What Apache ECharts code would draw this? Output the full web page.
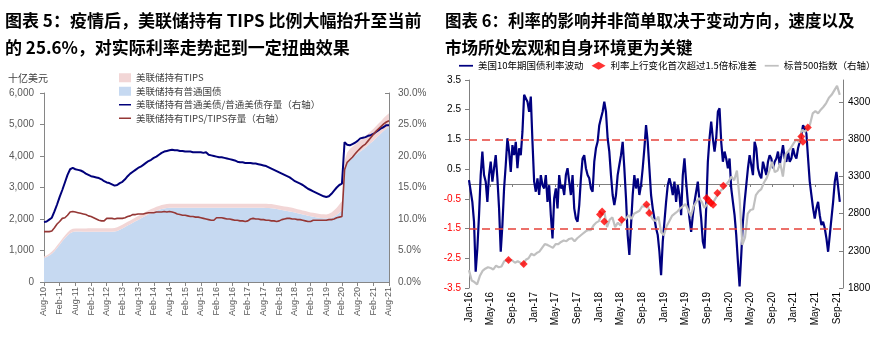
<!DOCTYPE html>
<html><head><meta charset="utf-8">
<script src="https://cdn.jsdelivr.net/npm/echarts@6/dist/echarts.min.js"></script>
<style>html,body{margin:0;padding:0;background:#fff;}#c{width:885px;height:338px;}</style>
</head><body><div id="c"></div>
<script>
// ================= 图表 5 (monthly, Aug-10 .. Aug-21) =================
const c5StartYear = 2010, c5StartMonth = 7; // Aug (0-based)
const c5MonthCount = 133;
const monthAbbr = ['Jan','Feb','Mar','Apr','May','Jun','Jul','Aug','Sep','Oct','Nov','Dec'];
// 美联储持有普通国债 (十亿美元)
const nominalHoldings = [
 760,790,840,900,980,1080,1180,1290,1390,1480,1550,1590,
 1600,1600,1600,1598,1598,1598,1597,1597,1597,1596,1596,1596,
 1595,1595,1596,1600,1620,1660,1700,1745,1790,1835,1880,1925,
 1970,2015,2060,2105,2150,2190,2225,2260,2290,2315,2335,2350,
 2355,2355,2355,2355,2355,2355,2355,2355,2355,2355,2355,2355,
 2355,2355,2355,2355,2355,2355,2355,2355,2355,2355,2355,2355,
 2355,2355,2355,2355,2355,2355,2355,2355,2355,2355,2355,2355,
 2355,2352,2350,
 2345,2330,2315,2300,2285,2270,2255,2240,2225,2205,2185,2165,
 2145,2125,2105,2085,2070,2055,2040,2030,2025,2020,2025,2040,
 2080,2130,2200,2280,
 3550,3800,3900,3960,4020,4080,4140,4200,4270,4340,4410,4480,4560,4640,4720,4800,4870,4930
];
// 美联储持有TIPS (十亿美元)
const tipsHoldings = [
 50,55,60,65,70,75,80,85,90,95,98,100,
 100,101,102,103,104,105,106,107,108,109,110,110,
 111,112,113,114,115,116,117,118,119,120,120,121,
 122,122,123,123,124,124,125,125,126,126,127,127,
 128,128,128,128,128,128,128,128,128,128,128,128,
 129,129,129,129,129,129,129,129,129,129,129,129,
 130,130,130,130,130,130,130,130,130,130,130,130,
 130,130,130,130,130,130,130,130,130,130,130,130,
 128,128,127,127,126,126,125,125,124,124,123,123,
 125,140,170,200,230,260,290,
 300,310,320,330,340,350,355,360,365,370,375,380,385,390,395,405,415,425
];
// 美联储持有普通美债/普通美债存量 (%)
const nominalShare = [
 9.5,9.6,9.9,10.2,11.2,12.3,13.5,14.6,15.8,17.0,17.9,18.1,
 17.9,17.8,17.7,17.5,17.2,17.0,16.8,16.7,16.6,16.5,16.3,16.0,
 15.8,15.7,15.5,15.3,15.4,15.7,15.9,16.3,16.8,17.2,17.5,17.8,
 18.1,18.3,18.6,18.9,19.2,19.4,19.7,19.9,20.2,20.5,20.7,20.8,
 20.9,21.0,20.9,20.9,20.8,20.8,20.7,20.7,20.7,20.6,20.6,20.6,
 20.6,20.5,20.6,20.2,20.1,20.0,19.9,19.8,19.8,19.7,19.6,19.5,
 19.4,19.3,19.1,19.0,19.0,18.9,18.9,18.9,18.8,18.8,18.7,18.6,
 18.5,18.4,18.2,18.0,17.8,17.6,17.4,17.2,17.0,16.8,16.6,16.3,
 16.0,15.8,15.6,15.4,15.1,14.8,14.6,14.4,14.2,14.0,13.8,13.6,
 13.5,13.6,14.0,14.5,15.0,15.4,15.6,22.2,21.8,21.7,21.9,22.1,
 22.4,22.8,22.9,23.0,23.2,23.3,23.5,23.8,24.1,24.4,24.6,24.9,24.9
];
// 美联储持有TIPS/TIPS存量 (%)
const tipsShare = [
 8.0,8.0,8.0,8.1,8.6,9.2,9.6,10.1,10.2,10.6,11.1,11.2,
 11.1,11.0,10.9,10.8,10.7,10.5,10.4,10.2,10.0,9.8,9.7,9.7,
 10.1,10.1,10.1,10.0,10.1,10.1,10.1,10.2,10.4,10.5,10.7,10.7,
 10.8,10.8,10.8,10.9,11.0,11.0,11.0,11.1,11.1,11.1,11.2,11.1,
 11.2,11.1,11.0,10.8,10.7,10.6,10.6,10.5,10.4,10.4,10.3,10.3,
 10.2,10.1,10.0,9.9,9.8,9.8,10.2,10.2,10.2,10.1,10.0,10.0,
 9.9,9.8,9.8,9.7,9.7,9.6,9.7,10.0,10.1,10.0,10.0,9.9,
 9.9,9.8,9.8,9.7,9.7,9.6,9.7,9.9,10.0,10.1,10.1,10.0,
 10.0,9.9,9.9,9.8,9.7,9.6,9.6,9.8,9.8,9.8,9.8,9.8,
 9.8,9.9,9.9,10.0,10.2,10.3,10.4,17.8,19.0,19.4,19.8,20.3,
 20.8,21.2,21.6,21.9,22.4,22.9,23.4,23.9,24.3,24.7,25.1,25.4,25.6
];

// ================= 图表 6 =================
const xLabels6 = ['Jan-16','May-16','Sep-16','Jan-17','May-17','Sep-17','Jan-18','May-18','Sep-18',
                  'Jan-19','May-19','Sep-19','Jan-20','May-20','Sep-20','Jan-21','May-21','Sep-21'];
// 美国10年期国债利率波动 — samples every ~9 days starting Jan-16 (step in months)
const yieldStepMonths = 0.3086;
const yieldVol = [
 0.13,0.08,-0.60,-1.27,-2.95,-2.17,-1.05,0.30,1.09,0.30,0.08,-0.60,0.30,0.75,0.08,0.53,0.97,0.19,-0.82,-2.28,
 -1.38,-0.15,0.64,1.54,1.09,0.41,1.31,0.97,1.42,0.53,1.20,0.97,1.76,3.00,3.05,2.77,2.43,2.94,1.42,0.08,
 -0.26,0.19,-0.37,0.30,-0.04,-0.15,0.30,-0.60,-0.04,-1.05,-1.83,-0.48,-0.15,-0.82,0.30,-0.15,-0.04,-0.37,0.30,0.53,
 0.08,-0.37,0.30,-0.82,-1.16,-1.27,-0.71,0.19,0.86,0.97,0.53,0.30,0.19,-0.15,-0.26,0.75,1.20,1.42,1.98,2.21,
 2.43,2.77,2.43,1.54,1.09,0.30,-0.37,-0.71,-0.37,0.30,0.64,0.97,1.42,0.53,-0.48,-1.72,-2.39,-1.38,-0.37,0.30,
 -0.15,0.19,-0.37,-0.04,0.53,1.20,1.98,1.42,0.53,-0.37,-0.82,-1.16,-1.49,-1.72,-2.28,-3.07,-1.94,-1.27,-0.60,-0.04,
 0.19,-0.04,-0.37,0.08,-0.60,-0.04,-0.37,-1.05,0.30,0.86,0.08,-0.60,-1.16,-1.61,-1.05,-0.60,-0.26,0.08,-0.60,-1.16,
 -1.94,-2.17,-0.82,0.75,1.54,2.10,1.54,1.09,1.54,2.43,2.55,1.42,0.75,1.09,0.86,0.53,0.86,-0.15,-0.60,-1.05,
 -1.72,-2.62,-3.45,-2.39,-1.27,-0.60,-0.04,0.53,0.97,0.64,0.30,1.42,1.20,0.53,0.30,0.19,0.75,0.53,0.30,0.75,
 0.97,0.86,0.53,0.75,0.86,1.09,0.64,0.97,1.31,0.86,0.75,1.09,0.75,0.86,1.20,0.97,0.86,1.20,1.42,1.65,
 1.98,1.87,1.70,0.86,0.08,-0.37,-0.82,-1.16,-0.82,-0.60,-1.05,-1.38,-1.27,-1.49,-1.83,-2.28,-1.72,-1.16,-0.60,0.08,
 0.41,0.41,-0.60
];
// 标普500指数 — semi-monthly samples from Jan-16
const spxStepMonths = 0.5;
const spx = [
 2040,1900,1880,1850,1960,2030,2060,2080,2070,2050,2100,2080,2090,2160,2170,2180,2170,2140,2160,2140,2110,2180,2200,2260,
 2240,2270,2290,2340,2390,2380,2360,2340,2390,2390,2420,2440,2430,2460,2470,2430,2470,2500,2530,2560,2580,2580,2640,2680,
 2700,2790,2830,2620,2720,2750,2620,2680,2640,2720,2730,2780,2730,2800,2820,2840,2900,2900,2920,2780,2720,2700,2760,2550,
 2510,2630,2700,2770,2800,2830,2870,2900,2930,2850,2770,2900,2960,3010,2960,2880,2930,3000,2940,3000,3060,3110,3140,3190,
 3240,3300,3250,3380,3000,2380,2480,2800,2850,2860,3050,3100,3130,3220,3280,3380,3500,3360,3380,3480,3300,3600,3640,3690,
 3750,3800,3760,3930,3900,3940,4000,4150,4180,4150,4200,4240,4290,4360,4400,4460,4520,4400
];
// 利率上行变化首次超过1.5倍标准差 (month since Jan-16, S&P level)
const signalMonths = [7.3,10.1,24.2,24.6,25.0,28.2,32.8,33.3,43.9,44.3,44.7,45.1,45.9,47.0,61.4,61.7,62.6];
const signalValues = [2177,2123,2790,2830,2695,2720,2925,2810,3010,2975,2945,2920,3080,3175,3840,3770,3960];
const bandLevels = [1.5, -1.5];

// ---------- build ----------
const cats5 = [];
for (let i = 0; i < c5MonthCount; i++) {
  const mi = (c5StartMonth + i) % 12, yr = c5StartYear + Math.floor((c5StartMonth + i) / 12);
  cats5.push(monthAbbr[mi] + '-' + String(yr % 100).padStart(2, '0'));
}
const yieldData = yieldVol.map((v, i) => [i * yieldStepMonths, v]);
const spxData = spx.map((v, i) => [i * spxStepMonths, v]);
const signalData = signalMonths.map((m, i) => [m, signalValues[i]]);

const AX5 = '#868686', LBL5 = '#595959', AX6 = '#808080';
const lineIcon = 'path://M0,0 L24,0 L24,3 L0,3 Z';
const chart = echarts.init(document.getElementById('c'), null, {renderer: 'canvas'});
chart.setOption({
  animation: false,
  backgroundColor: '#ffffff',
  title: [
    {text: '图表 5：疫情后，美联储持有 TIPS 比例大幅抬升至当前\n的 25.6%，对实际利率走势起到一定扭曲效果',
     left: 5, top: 7, padding: 0,
     textStyle: {fontSize: 17, fontWeight: 'bold', color: '#000', fontFamily: 'Noto Sans CJK SC', lineHeight: 27}},
    {text: '图表 6：利率的影响并非简单取决于变动方向，速度以及\n市场所处宏观和自身环境更为关键',
     left: 445, top: 7, padding: 0,
     textStyle: {fontSize: 16.5, fontWeight: 'bold', color: '#000', fontFamily: 'Noto Sans CJK SC', lineHeight: 27}}
  ],
  graphic: [{type: 'text', left: 8, top: 73, style: {text: '十亿美元', fontSize: 10, fill: '#404040', fontFamily: 'Noto Sans CJK SC'}}],
  legend: [
    {orient: 'vertical', left: 119, top: 73, padding: 0, itemWidth: 12, itemHeight: 9, itemGap: 4,
     textStyle: {fontSize: 9.5, color: '#404040', fontFamily: 'Noto Sans CJK SC'},
     data: [{name: '美联储持有TIPS', icon: 'rect'}, {name: '美联储持有普通国债', icon: 'rect'},
            {name: '美联储持有普通美债/普通美债存量（右轴）', icon: lineIcon},
            {name: '美联储持有TIPS/TIPS存量（右轴）', icon: lineIcon}]},
    {orient: 'horizontal', left: 459, top: 61, padding: 0, itemWidth: 14, itemHeight: 8, itemGap: 8,
     textStyle: {fontSize: 9.5, color: '#000', fontFamily: 'Noto Sans CJK SC'},
     data: [{name: '美国10年期国债利率波动', icon: lineIcon}, {name: '利率上行变化首次超过1.5倍标准差', icon: 'diamond'},
            {name: '标普500指数（右轴）', icon: lineIcon}]}
  ],
  grid: [
    {left: 44, top: 93, width: 345, height: 189, containLabel: false},
    {left: 469, top: 80, width: 374, height: 208, containLabel: false}
  ],
  xAxis: [
    {gridIndex: 0, type: 'category', data: cats5, boundaryGap: false,
     axisLine: {lineStyle: {color: AX5}}, axisTick: {interval: 5, length: 4, lineStyle: {color: AX5}},
     axisLabel: {interval: 5, rotate: 90, fontSize: 9, color: LBL5, margin: 5, fontFamily: 'Liberation Sans'},
     splitLine: {show: false}},
    {gridIndex: 1, type: 'value', min: 0, max: 69.1, interval: 4,
     axisLine: {show: false, onZero: false}, axisTick: {show: false}, splitLine: {show: false},
     axisLabel: {rotate: 90, fontSize: 10, color: '#000', margin: 4, fontFamily: 'Liberation Sans', showMaxLabel: false,
       formatter: v => (Math.abs(v / 4 - Math.round(v / 4)) < 1e-6 && xLabels6[Math.round(v / 4)]) ? xLabels6[Math.round(v / 4)] : ''}},
    {gridIndex: 1, type: 'value', min: 0, max: 69.1, interval: 4, position: 'bottom',
     axisLine: {show: true, onZero: true, lineStyle: {color: AX6, width: 1}},
     axisTick: {show: true, length: 3, inside: false, lineStyle: {color: AX6}},
     axisLabel: {show: false}, splitLine: {show: false}}
  ],
  yAxis: [
    {gridIndex: 0, type: 'value', min: 0, max: 6000, interval: 1000,
     axisLine: {show: true, lineStyle: {color: AX5}}, axisTick: {show: true, length: 4, lineStyle: {color: AX5}},
     splitLine: {show: false},
     axisLabel: {fontSize: 10, color: LBL5, margin: 10, fontFamily: 'Liberation Sans', formatter: v => v.toLocaleString('en-US')}},
    {gridIndex: 0, type: 'value', position: 'right', min: 0, max: 30, interval: 5,
     axisLine: {show: true, lineStyle: {color: AX5}}, axisTick: {show: true, inside: true, length: 4, lineStyle: {color: AX5}},
     splitLine: {show: false},
     axisLabel: {fontSize: 10, color: LBL5, margin: 9, fontFamily: 'Liberation Sans', formatter: v => v.toFixed(1) + '%'}},
    {gridIndex: 1, type: 'value', min: -3.5, max: 3.5, interval: 1,
     axisLine: {show: true, onZero: false, lineStyle: {color: AX6}}, axisTick: {show: true, length: 4, lineStyle: {color: AX6}},
     splitLine: {show: false},
     axisLabel: {fontSize: 10, margin: 8, fontFamily: 'Liberation Sans', formatter: v => v.toFixed(1),
       color: v => (Number(v) < 0 ? '#ff0000' : '#000000')}},
    {gridIndex: 1, type: 'value', position: 'right', min: 1800, max: 4600, interval: 500,
     axisLine: {show: true, onZero: false, lineStyle: {color: AX6}}, axisTick: {show: true, inside: true, length: 4, lineStyle: {color: AX6}},
     splitLine: {show: false},
     axisLabel: {fontSize: 10, color: '#000', margin: 5, fontFamily: 'Liberation Sans', showMaxLabel: false, formatter: v => String(v)}}
  ],
  series: [
    {name: '美联储持有普通国债', type: 'line', xAxisIndex: 0, yAxisIndex: 0, stack: 'hold', data: nominalHoldings,
     symbol: 'none', color: '#c6d9f1', lineStyle: {width: 0}, areaStyle: {color: '#c6d9f1', opacity: 1}, z: 1},
    {name: '美联储持有TIPS', type: 'line', xAxisIndex: 0, yAxisIndex: 0, stack: 'hold', data: tipsHoldings,
     symbol: 'none', color: '#f2d6d6', lineStyle: {width: 0}, areaStyle: {color: '#f2d6d6', opacity: 1}, z: 1},
    {name: '美联储持有普通美债/普通美债存量（右轴）', type: 'line', xAxisIndex: 0, yAxisIndex: 1, data: nominalShare,
     symbol: 'none', color: '#00007a', lineStyle: {width: 2, color: '#00007a'}, z: 3},
    {name: '美联储持有TIPS/TIPS存量（右轴）', type: 'line', xAxisIndex: 0, yAxisIndex: 1, data: tipsShare,
     symbol: 'none', color: '#953735', lineStyle: {width: 1.6, color: '#953735'}, z: 3},

    {name: '美国10年期国债利率波动', type: 'line', xAxisIndex: 1, yAxisIndex: 2, data: yieldData,
     symbol: 'none', color: '#000080', lineStyle: {width: 2.2, color: '#000080'}, z: 2,
     markLine: {silent: true, symbol: 'none', label: {show: false},
       lineStyle: {color: '#e6413a', type: [8, 5], width: 1.5},
       data: bandLevels.map(v => ({yAxis: v}))}},
    {name: '标普500指数（右轴）', type: 'line', xAxisIndex: 1, yAxisIndex: 3, data: spxData,
     symbol: 'none', color: '#c0c0c0', lineStyle: {width: 2.2, color: '#c0c0c0'}, z: 3},
    {name: '利率上行变化首次超过1.5倍标准差', type: 'scatter', xAxisIndex: 1, yAxisIndex: 3, data: signalData,
     symbol: 'diamond', symbolSize: 8, color: '#ff0000', itemStyle: {color: '#ff0000'}, z: 4}
  ]
});
</script></body></html>
